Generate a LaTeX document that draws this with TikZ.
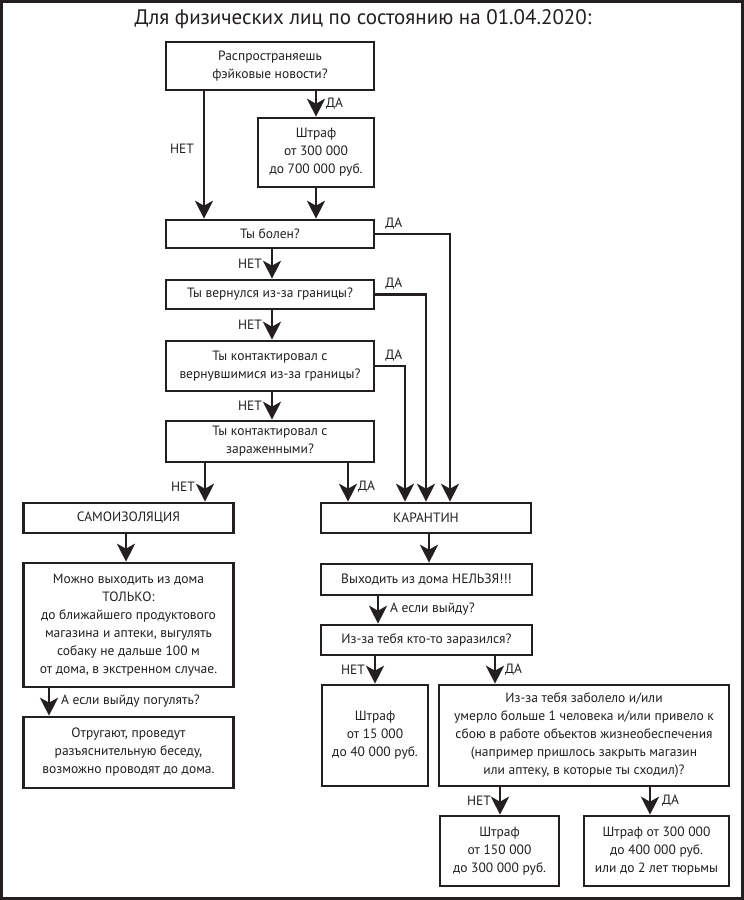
\documentclass[tikz,border=0pt]{standalone}
\usepackage{fontspec}
\setmainfont{PT Sans}
\usetikzlibrary{arrows.meta,positioning}
\definecolor{ink}{HTML}{231F20}
\begin{document}
\begin{tikzpicture}[x=1pt, y=-1pt, every node/.style={align=center, text=ink, font=\fontsize{13.5}{18}\selectfont}]
\tikzset{
  box/.style={draw=ink, line width=2.6pt, inner sep=0pt},
  qbox/.style={box, minimum width=208pt},
  wbox/.style={box, minimum width=210pt},
  arr/.style={draw=ink, line width=2.2pt, -{Stealth[length=18pt, width=18pt, inset=5pt]}},
  lab/.style={inner sep=1pt}
}
\useasboundingbox (0,0) rectangle (744,900);
\fill[white] (0,0) rectangle (744,900);
\draw[ink, line width=3pt] (1.5,1.5) rectangle (742.5,898.5);

% Title
\node (title) at (363,19) {\fontsize{21}{24}\selectfont Для физических лиц по состоянию на 01.04.2020:};

% Questions (top)
\node[qbox, minimum height=48pt] (q_fake) at (270,66) {Распространяешь\\фэйковые новости?};
\node[box, minimum width=116pt, minimum height=69pt] (f_fake) at (316,152.5) {Штраф\\от 300 000\\до 700 000 руб.};
\node[qbox, minimum height=28pt] (q_bolen) at (270,234) {Ты болен?};
\node[qbox, minimum height=29pt] (q_vernul) at (270,294.5) {Ты вернулся из-за границы?};
\node[qbox, minimum height=50pt] (q_kont1) at (270,366) {Ты контактировал с\\вернувшимися из-за границы?};
\node[qbox, minimum height=41pt] (q_kont2) at (270,441.5) {Ты контактировал с\\зараженными?};

\draw[arr] (q_fake.south -| f_fake) -- node[lab, right=8pt] {ДА} (f_fake.north);
\draw[arr] (q_fake.south -| 204,0) -- node[lab, left=8pt, pos=0.45] {НЕТ} (q_bolen.north -| 204,0);
\draw[arr] (f_fake.south) -- (q_bolen.north -| f_fake);
\draw[arr] (q_bolen.south -| 272,0) -- node[lab, left=8pt] {НЕТ} (q_vernul.north -| 272,0);
\draw[arr] (q_vernul.south -| 272,0) -- node[lab, left=8pt] {НЕТ} (q_kont1.north -| 272,0);
\draw[arr] (q_kont1.south -| 272,0) -- node[lab, left=8pt] {НЕТ} (q_kont2.north -| 272,0);

% Самоизоляция (Left)
\node[wbox, minimum height=30pt] (s_samo) at (128.5,518) {САМОИЗОЛЯЦИЯ};
\node[wbox, minimum height=124pt] (s_mozhno) at (128.5,625) {Можно выходить из дома\\ТОЛЬКО:\\до ближайшего продуктового\\магазина и аптеки, выгулять\\собаку не дальше 100 м\\от дома, в экстренном случае.};
\node[wbox, minimum height=71pt] (s_otrug) at (128.5,752.5) {Отругают, проведут\\разъяснительную беседу,\\возможно проводят до дома.};

\draw[arr] (q_kont2.south -| 205,0) -- node[lab, left=8pt, pos=0.6] {НЕТ} (s_samo.north -| 205,0);
\draw[arr] (s_samo.south -| 126,0) -- (s_mozhno.north -| 126,0);
\draw[arr] (s_mozhno.south -| 49,0) -- node[lab, right=10pt, pos=0.47] {А если выйду погулять?} (s_otrug.north -| 49,0);

% Карантин (Right)
\node[wbox, minimum height=30pt] (k_karan) at (426,518) {КАРАНТИН};
\node[wbox, minimum width=211pt, minimum height=31pt] (k_nelzya) at (426.5,579.5) {Выходить из дома НЕЛЬЗЯ!!!};
\node[wbox, minimum width=211pt, minimum height=30pt] (k_zaraz) at (426.5,640) {Из-за тебя кто-то заразился?};
\node[box, minimum width=106pt, minimum height=101pt] (k_f15) at (375,735.5) {Штраф\\от 15 000\\до 40 000 руб.};
\node[box, minimum width=290pt, minimum height=101pt] (k_big) at (584,735.5) {Из-за тебя заболело и/или\\умерло больше 1 человека и/или привело к\\сбою в работе объектов жизнеобеспечения\\(например пришлось закрыть магазин\\или аптеку, в которые ты сходил)?};
\node[box, minimum width=119pt, minimum height=70pt] (k_f150) at (499.5,851) {Штраф\\от 150 000\\до 300 000 руб.};
\node[box, minimum width=145pt, minimum height=70pt] (k_f300) at (656.5,851) {Штраф от 300 000\\до 400 000 руб.\\или до 2 лет тюрьмы};

\draw[arr] (q_kont2.south -| 348,0) -- node[lab, right=8pt, pos=0.6] {ДА} (k_karan.north -| 348,0);
\draw[arr] (q_kont1.east) node[lab, anchor=south west, xshift=8pt, yshift=3pt] {ДА} -| (k_karan.north -| 405,0);
\draw[arr] (q_vernul.east) node[lab, anchor=south west, xshift=8pt, yshift=3pt] {ДА} -| (k_karan.north -| 426,0);
\draw[arr] (q_bolen.east) node[lab, anchor=south west, xshift=8pt, yshift=3pt] {ДА} -| (k_karan.north -| 450,0);

\draw[arr] (k_karan.south -| 429,0) -- (k_nelzya.north -| 429,0);
\draw[arr] (k_nelzya.south -| 378,0) -- node[lab, right=10pt, pos=0.45] {А если выйду?} (k_zaraz.north -| 378,0);
\draw[arr] (k_zaraz.south -| k_f15) -- node[lab, left=8pt] {НЕТ} (k_f15.north);
\draw[arr] (k_zaraz.south -| 495,0) -- node[lab, right=8pt] {ДА} (k_big.north -| 495,0);
\draw[arr] (k_big.south -| 500,0) -- node[lab, left=7pt] {НЕТ} (k_f150.north -| 500,0);
\draw[arr] (k_big.south -| 650,0) -- node[lab, right=10pt] {ДА} (k_f300.north -| 650,0);

\end{tikzpicture}
\end{document}
